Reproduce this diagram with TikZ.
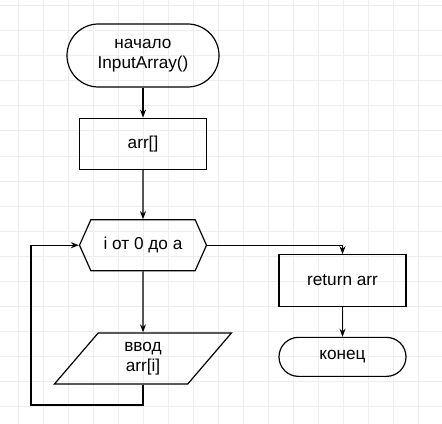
\documentclass[tikz,border=0pt]{standalone}
\usepackage{fontspec}
\setmainfont{Liberation Sans}
\usepackage{tikz}
\usetikzlibrary{arrows.meta}
\usetikzlibrary{positioning}
\usetikzlibrary{shapes.geometric}
\usetikzlibrary{shapes.symbols}

\tikzset{
  gridline/.style={draw=black!7,line width=0.75pt},
  block/.style={draw,line width=0.9pt,align=center,inner sep=0pt,
    font=\fontsize{12.9}{15}\selectfont},
  termbox/.style={block,rectangle,rounded corners=#1},
  procbox/.style={block,rectangle,minimum width=95.25pt,minimum height=38.5pt},
  loopbox/.style={block,signal,signal to=west and east,signal pointer angle=132,
    minimum width=95.25pt,minimum height=38.25pt},
  iobox/.style={block,trapezium,trapezium left angle=61,trapezium right angle=119,
    trapezium stretches=true,minimum width=133.5pt,minimum height=38.25pt},
  flow/.style={line width=0.9pt,-{Stealth[length=6pt,width=4.5pt]}}
}

\begin{document}
\begin{tikzpicture}[x=0.75pt,y=-0.75pt]
  \useasboundingbox (0,0) rectangle (442,424);
  % background grid
  \foreach \gx in {18,43,...,443} \draw[gridline] (\gx,0) -- (\gx,424);
  \foreach \gy in {6,31,...,424} \draw[gridline] (0,\gy) -- (442,\gy);

  \node[termbox=23.6pt,minimum width=114pt,minimum height=47.25pt] (start) at (143,55.5) {начало\\InputArray()};
  \node[procbox,below=22.5pt of start] (arr) {arr[]};
  \node[loopbox,below=36.75pt of arr] (loop) {i от 0 до a};
  \node[iobox,below=45.75pt of loop] (input) {ввод\\arr[i]};
  \node[procbox] (ret) at (342.5,280.5) {return arr};
  \node[termbox=14.6pt,minimum width=95.25pt,minimum height=29.25pt,below=22.5pt of ret] (end) {конец};

  \coordinate (back) at (31,405);

  \draw[flow](start)--(arr);
  \draw[flow](arr)--(loop);
  \draw[flow](loop)--(input);
  \draw[flow](input.south)|-(back)|-(loop.west);
  \draw[flow](loop.east)-|(ret.north);
  \draw[flow](ret)--(end);
\end{tikzpicture}
\end{document}
